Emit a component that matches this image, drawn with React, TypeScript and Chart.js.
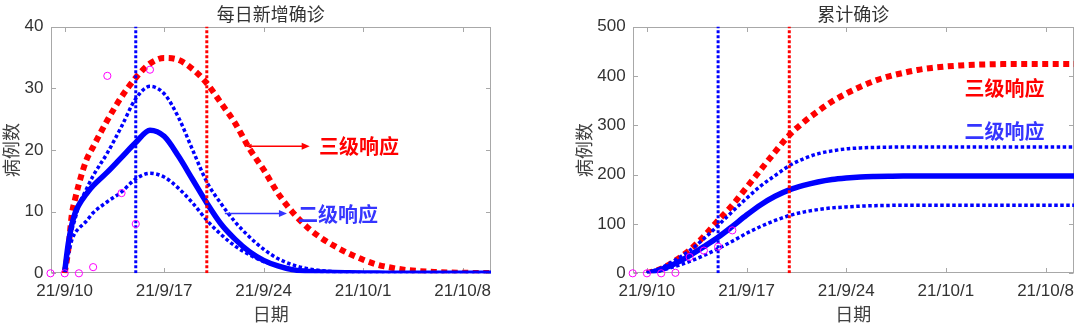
import React, { useEffect, useRef } from "react";
import { Chart, registerables } from "chart.js";

Chart.register(...registerables);

// ---------------- data ----------------
const TICK_DAYS = [0, 7, 14, 21, 28];
const TICK_LABELS = ["21/9/10", "21/9/17", "21/9/24", "21/10/1", "21/10/8"];
const X_MIN = -1;
const X_MAX = 30;
const DAILY_Y_MAX = 40;
const DAILY_Y_STEP = 10;
const CUM_Y_MAX = 500;
const CUM_Y_STEP = 100;

const RESPONSE_L2_DAY = 5; // 二级响应 (blue)
const RESPONSE_L3_DAY = 10; // 三级响应 (red)

const OBS_DAYS = [-1, 0, 1, 2, 3, 4, 5, 6];
const OBS_DAILY = [0, 0, 0, 1, 32, 13, 8, 33];
const OBS_CUM = [0, 0, 0, 1, 33, 46, 54, 87];

const DAILY_DAYS = [0, 0.25, 0.5, 0.75, 1, 1.5, 2, 3, 4, 5, 6, 7, 8, 9, 10, 11, 12, 13, 14, 15, 16, 17, 18, 19, 20, 21, 22, 23, 24, 25, 26, 27, 28, 29, 30];
const DAILY_L3 = [0, 3.8, 9.5, 12.2, 14.5, 18.2, 20.5, 24.8, 28.6, 31.7, 34.0, 34.9, 34.6, 33.1, 30.8, 27.6, 24.3, 20.2, 16.8, 13.0, 10.0, 7.6, 5.8, 4.4, 3.2, 2.2, 1.4, 0.9, 0.55, 0.35, 0.22, 0.14, 0.09, 0.06, 0.04];
const DAILY_L2 = [0.3, 4.8, 7.9, 9.9, 11.1, 12.8, 14.2, 16.4, 18.8, 21.2, 23.2, 22.2, 19.0, 15.2, 11.4, 8.0, 5.5, 3.5, 2.1, 1.2, 0.6, 0.35, 0.2, 0.12, 0.08, 0.05, 0.03, 0.02, 0.01, 0, 0, 0, 0, 0, 0];
const DAILY_L2_HIGH = [0.4, 4.5, 7.0, 9.0, 11.0, 13.5, 15.8, 19.5, 23.8, 28.3, 30.3, 29.1, 25.3, 20.0, 14.8, 11.3, 8.3, 5.9, 3.9, 2.4, 1.4, 0.8, 0.45, 0.25, 0.15, 0.1, 0.06, 0.04, 0.02, 0.01, 0, 0, 0, 0, 0];
const DAILY_L2_LOW = [0.2, 3.0, 5.4, 6.6, 7.3, 8.4, 9.8, 11.6, 13.2, 15.3, 16.2, 15.6, 13.8, 11.4, 8.6, 6.3, 4.4, 3.0, 1.9, 1.2, 0.7, 0.4, 0.25, 0.15, 0.1, 0.06, 0.04, 0.02, 0.01, 0, 0, 0, 0, 0, 0];

const CUM_DAYS = [0, 1, 2, 3, 4, 5, 6, 7, 8, 9, 10, 11, 12, 13, 14, 15, 16, 17, 18, 19, 20, 21, 22, 23, 24, 25, 26, 27, 28, 29, 30];
const CUM_L3 = [0, 9, 26, 47, 75, 107, 138, 174, 210, 246, 280, 306, 328, 348, 364, 378, 390, 399, 406, 412, 416, 419, 421, 422.5, 423.3, 423.8, 424, 424, 424, 424, 424];
const CUM_L2 = [0, 8, 20, 36, 54, 73, 95, 118, 139, 156, 169, 178, 185, 190, 193, 195, 196, 196.6, 197, 197, 197, 197, 197, 197, 197, 197, 197, 197, 197, 197, 197];
const CUM_L2_HIGH = [0, 11, 27, 46, 70, 97, 125, 152, 177, 198, 218, 232, 242, 248, 252, 254, 255, 255.5, 256, 256, 256, 256, 256, 256, 256, 256, 256, 256, 256, 256, 256];
const CUM_L2_LOW = [0, 6, 14, 24, 36, 50, 65, 81, 95, 107, 117, 124, 129, 132.5, 134.5, 136, 137, 137.5, 138, 138, 138, 138, 138, 138, 138, 138, 138, 138, 138, 138, 138];

// ---------------- styles ----------------
const CJK = '"Noto Sans CJK SC", "Noto Sans", sans-serif';
const LATIN = '"Liberation Sans", Arial, sans-serif';
const RED = "#ff0000";
const BLUE = "#0000ff";
const NOTE_BLUE = "#3535ff";
const MAGENTA = "#ff00ff";
const AXIS_GRAY = "#a8a8a8";
const TEXT_DARK = "#333333";

type Note = {
  text: string;
  color: string;
  day: number;
  value: number;
  arrow?: { from: number; to: number; value: number; both: boolean };
};

function pts(xs: number[], ys: number[]) {
  return xs.map((x, i) => ({ x, y: ys[i] }));
}

function arrowHead(ctx: CanvasRenderingContext2D, x: number, y: number, dir: number, len: number, half: number) {
  ctx.beginPath();
  ctx.moveTo(x, y);
  ctx.lineTo(x - dir * len, y - half);
  ctx.lineTo(x - dir * len, y + half);
  ctx.closePath();
  ctx.fill();
}

function framePlugin(notes: Note[]) {
  return {
    id: "frame",
    beforeDatasetsDraw(chart: any) {
      const { ctx, chartArea: a, scales } = chart;
      const xs = scales.x;
      const ys = scales.y;
      ctx.save();
      ctx.strokeStyle = AXIS_GRAY;
      ctx.lineWidth = 1;
      const L = Math.round(a.left) + 0.5;
      const R = Math.round(a.right) - 0.5;
      const T = Math.round(a.top) + 0.5;
      const B = Math.round(a.bottom) - 0.5;
      ctx.strokeRect(L, T, R - L, B - T);
      const tl = 4.5;
      ctx.beginPath();
      xs.ticks.forEach((t: any) => {
        const p = Math.round(xs.getPixelForValue(t.value)) + 0.5;
        ctx.moveTo(p, B);
        ctx.lineTo(p, B - tl);
        ctx.moveTo(p, T);
        ctx.lineTo(p, T + tl);
      });
      ys.ticks.forEach((t: any) => {
        const p = Math.round(ys.getPixelForValue(t.value)) + 0.5;
        ctx.moveTo(L, p);
        ctx.lineTo(L + tl, p);
        ctx.moveTo(R, p);
        ctx.lineTo(R - tl, p);
      });
      ctx.stroke();
      ctx.restore();
    },
    afterDraw(chart: any) {
      const { ctx, scales } = chart;
      const xs = scales.x;
      const ys = scales.y;
      ctx.save();
      notes.forEach((n) => {
        if (n.arrow) {
          const x1 = xs.getPixelForValue(n.arrow.from);
          const x2 = xs.getPixelForValue(n.arrow.to);
          const y = ys.getPixelForValue(n.arrow.value);
          ctx.strokeStyle = n.color;
          ctx.fillStyle = n.color;
          ctx.lineWidth = 1.6;
          ctx.beginPath();
          ctx.moveTo(x1, y);
          ctx.lineTo(x2 - 4, y);
          ctx.stroke();
          arrowHead(ctx, x2, y, 1, 8, 3.5);
          if (n.arrow.both) arrowHead(ctx, x1, y, -1, 5, 2.5);
        }
        ctx.fillStyle = n.color;
        ctx.font = `bold 20px ${CJK}`;
        ctx.textAlign = "left";
        ctx.textBaseline = "middle";
        ctx.fillText(n.text, xs.getPixelForValue(n.day), ys.getPixelForValue(n.value));
      });
      ctx.restore();
    },
  };
}

function makeConfig(opts: {
  title: string;
  yMax: number;
  yStep: number;
  yWidth: number;
  yTitlePad: number;
  rightPad: number;
  obs: number[];
  curveDays: number[];
  l3: number[];
  l2: number[];
  l2High: number[];
  l2Low: number[];
  notes: Note[];
}) {
  const curve = (data: number[], color: string, width: number, dash: number[]) => ({
    data: pts(opts.curveDays, data),
    borderColor: color,
    borderWidth: width,
    borderDash: dash,
    borderCapStyle: "butt",
    pointRadius: 0,
    fill: false,
    cubicInterpolationMode: "monotone",
    clip: 0,
  });
  const vline = (day: number, color: string) => ({
    data: [
      { x: day, y: 0 },
      { x: day, y: opts.yMax },
    ],
    borderColor: color,
    borderWidth: 3,
    borderDash: [3, 2],
    borderCapStyle: "butt",
    pointRadius: 0,
    fill: false,
    clip: 0,
  });
  return {
    type: "line",
    data: {
      datasets: [
        {
          data: pts(OBS_DAYS, opts.obs),
          showLine: false,
          pointRadius: 3.6,
          pointStyle: "circle",
          pointBorderColor: MAGENTA,
          pointBackgroundColor: "rgba(0,0,0,0)",
          pointBorderWidth: 1,
          clip: false,
        },
        vline(RESPONSE_L2_DAY, BLUE),
        vline(RESPONSE_L3_DAY, RED),
        curve(opts.l2Low, BLUE, 3.5, [3.5, 2.5]),
        curve(opts.l2, BLUE, 5.5, []),
        curve(opts.l2High, BLUE, 3.5, [3.5, 2.5]),
        curve(opts.l3, RED, 6, [6, 4.5]),
      ],
    },
    options: {
      animation: false,
      responsive: false,
      devicePixelRatio: 1,
      layout: { padding: { left: 0, right: opts.rightPad, top: 0, bottom: 0 } },
      plugins: {
        legend: { display: false },
        tooltip: { enabled: false },
        title: {
          display: true,
          text: opts.title,
          fullSize: false,
          color: TEXT_DARK,
          font: { family: CJK, size: 18, weight: "normal" },
          padding: { top: 3.2, bottom: 1.7 },
        },
      },
      scales: {
        x: {
          type: "linear",
          min: X_MIN,
          max: X_MAX,
          afterBuildTicks: (s: any) => {
            s.ticks = TICK_DAYS.map((v) => ({ value: v }));
          },
          afterFit: (s: any) => {
            s.height = 55.7;
            s.paddingLeft = 0;
            s.paddingRight = 0;
          },
          grid: { display: false, drawTicks: false },
          border: { display: false },
          ticks: {
            autoSkip: false,
            maxRotation: 0,
            padding: 7.5,
            color: TEXT_DARK,
            font: { family: LATIN, size: 17 },
            callback: (_v: any, i: number) => TICK_LABELS[i],
          },
          title: {
            display: true,
            text: "日期",
            color: "#404040",
            font: { family: CJK, size: 18 },
            padding: { top: 0, bottom: 3.7 },
          },
        },
        y: {
          type: "linear",
          min: 0,
          max: opts.yMax,
          afterFit: (s: any) => {
            s.width = opts.yWidth;
            s.paddingTop = 0;
            s.paddingBottom = 0;
          },
          grid: { display: false, drawTicks: false },
          border: { display: false },
          ticks: {
            stepSize: opts.yStep,
            padding: 7,
            color: TEXT_DARK,
            font: { family: LATIN, size: 17 },
          },
          title: {
            display: true,
            text: "病例数",
            color: "#404040",
            font: { family: CJK, size: 18 },
            padding: { top: opts.yTitlePad, bottom: 0 },
          },
        },
      },
    },
    plugins: [framePlugin(opts.notes)],
  };
}

const leftNotes: Note[] = [
  { text: "三级响应", color: RED, day: 17.9, value: 20.6, arrow: { from: 12.8, to: 17.24, value: 20.6, both: true } },
  { text: "二级响应", color: NOTE_BLUE, day: 16.42, value: 9.6, arrow: { from: 11.27, to: 15.64, value: 9.7, both: false } },
];
const rightNotes: Note[] = [
  { text: "三级响应", color: RED, day: 22.3, value: 374 },
  { text: "二级响应", color: NOTE_BLUE, day: 22.3, value: 287 },
];

function ChartCanvas({ build, left }: { build: () => any; left: number }) {
  const ref = useRef<HTMLCanvasElement>(null);
  useEffect(() => {
    const chart = new Chart(ref.current as HTMLCanvasElement, build());
    return () => chart.destroy();
  }, []);
  return (
    <canvas
      ref={ref}
      width={540}
      height={329}
      style={{ position: "absolute", left, top: 0, width: 540, height: 329 }}
    />
  );
}

export default function App() {
  return (
    <div style={{ position: "fixed", left: 0, top: 0, width: 1080, height: 329, background: "#ffffff" }}>
      <ChartCanvas
        left={0}
        build={() =>
          makeConfig({
            title: "每日新增确诊",
            yMax: DAILY_Y_MAX,
            yStep: DAILY_Y_STEP,
            yWidth: 50.5,
            yTitlePad: 0.6,
            rightPad: 49,
            obs: OBS_DAILY,
            curveDays: DAILY_DAYS,
            l3: DAILY_L3,
            l2: DAILY_L2,
            l2High: DAILY_L2_HIGH,
            l2Low: DAILY_L2_LOW,
            notes: leftNotes,
          })
        }
      />
      <ChartCanvas
        left={540}
        build={() =>
          makeConfig({
            title: "累计确诊",
            yMax: CUM_Y_MAX,
            yStep: CUM_Y_STEP,
            yWidth: 92.7,
            yTitlePad: 33.1,
            rightPad: 6,
            obs: OBS_CUM,
            curveDays: CUM_DAYS,
            l3: CUM_L3,
            l2: CUM_L2,
            l2High: CUM_L2_HIGH,
            l2Low: CUM_L2_LOW,
            notes: rightNotes,
          })
        }
      />
    </div>
  );
}
